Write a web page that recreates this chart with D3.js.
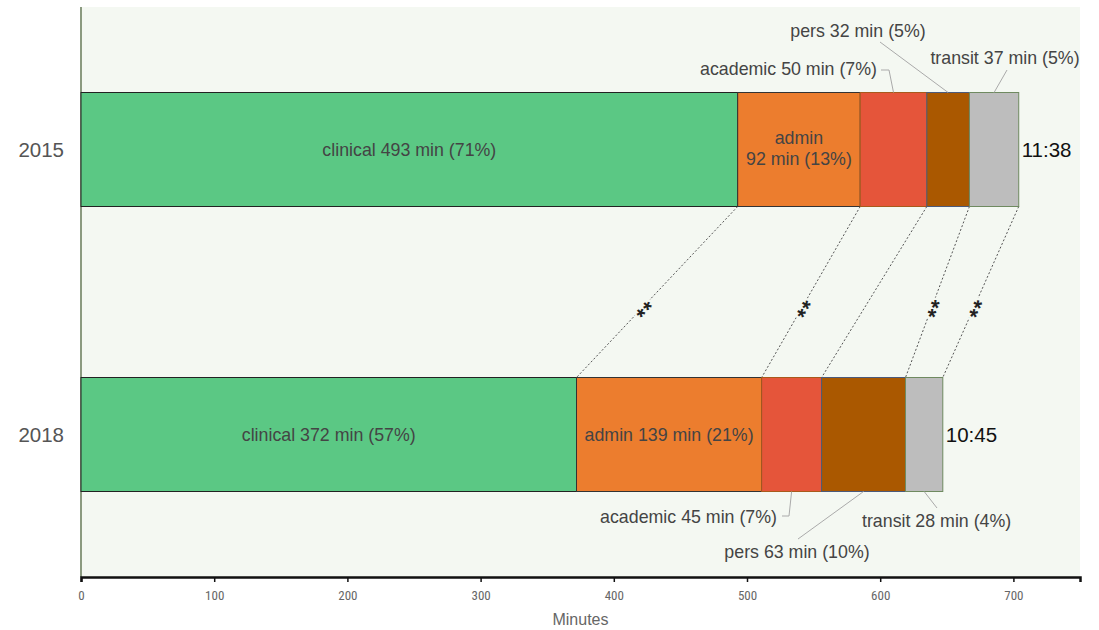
<!DOCTYPE html>
<html lang="en">
<head>
<meta charset="UTF-8">
<title>Time use 2015 vs 2018</title>
<style>
    body { margin: 0; background: #fff; }
    text { font-family: "Liberation Sans", Arial, sans-serif; }
    .x_axis text { font-family: "Liberation Sans Narrow", "Roboto Condensed", sans-serif; font-size: 13px; fill: #666; }
    .x_axis path, .x_axis line { stroke: #111; }
</style>
</head>
<body>
<script src="https://cdn.jsdelivr.net/npm/d3@7"></script>
<script>
    const years = ["2015", "2018"];
    const categories = ["clinical", "admin", "academic", "pers", "transit"];
    const minutes2015 = [493, 92, 50, 32, 37];
    const minutes2018 = [372, 139, 45, 63, 28];
    const pct2015 = [71, 13, 7, 5, 5];
    const pct2018 = [57, 21, 7, 10, 4];
    const totals = ["11:38", "10:45"];
    const xTicks = [0, 100, 200, 300, 400, 500, 600, 700];
    // boundaries after each category: marked significant with **
    const significant = [true, true, false, true, true];

    const colors = ["#5bc884", "#ec7d2e", "#e5553a", "#aa5800", "#bdbdbd"];
    const strokes = ["#222", "#333", "#a85a1c", "#4c5a7a", "#6f8a60"];

    const svg_w = 1099, svg_h = 630;
    const plot_l = 81, plot_r = 1080, plot_t = 7, plot_b = 577;
    const lab_size = 17.8;

    const x = d3.scaleLinear([0, 750], [plot_l, plot_r]);
    const y = d3.scaleBand(years, [plot_t, plot_b]).paddingInner(0.6).paddingOuter(0.3);

    const svg = d3.select("body").append("svg")
        .attr("width", svg_w).attr("height", svg_h);

    svg.append("rect")
        .attr("x", plot_l).attr("y", plot_t)
        .attr("width", plot_r - plot_l).attr("height", plot_b - plot_t)
        .attr("fill", "#f4f8f2");

    svg.append("line")
        .attr("x1", plot_l).attr("x2", plot_l).attr("y1", plot_t).attr("y2", plot_b)
        .attr("stroke", "#8b9a80").attr("stroke-width", 2);

    const rows = [
        { year: years[0], mins: minutes2015, pct: pct2015, total: totals[0] },
        { year: years[1], mins: minutes2018, pct: pct2018, total: totals[1] }
    ];

    rows.forEach(r => {
        let acc = 0;
        r.segs = r.mins.map((m, i) => {
            const s = { cat: categories[i], m: m, p: r.pct[i], x0: acc, x1: acc + m, i: i };
            acc += m;
            return s;
        });
        r.end = acc;
    });

    // dashed connectors between segment boundaries
    categories.forEach((c, i) => {
        const a = rows[0].segs[i].x1, b = rows[1].segs[i].x1;
        const x1 = x(a), y1 = y(years[0]) + y.bandwidth();
        const x2 = x(b), y2 = y(years[1]);
        svg.append("line")
            .attr("x1", x1).attr("y1", y1).attr("x2", x2).attr("y2", y2)
            .attr("stroke", "#555").attr("stroke-width", 1)
            .attr("stroke-dasharray", "2,2");
        if (significant[i]) {
            const t = 0.59;
            const mx = x1 + (x2 - x1) * t, my = y1 + (y2 - y1) * t;
            const ang = Math.atan2(y1 - y2, x1 - x2) * 180 / Math.PI;
            svg.append("text")
                .attr("transform", `translate(${mx},${my}) rotate(${ang})`)
                .attr("text-anchor", "middle")
                .attr("dy", "0.6em")
                .attr("font-size", 22)
                .attr("font-weight", "bold")
                .attr("letter-spacing", 1)
                .attr("fill", "#222")
                .attr("stroke", "#f4f8f2").attr("stroke-width", 5)
                .attr("paint-order", "stroke")
                .text("**");
        }
    });

    // bars
    rows.forEach(r => {
        const g = svg.append("g");
        g.selectAll("rect").data(r.segs).enter().append("rect")
            .attr("x", d => x(d.x0))
            .attr("y", y(r.year))
            .attr("width", d => x(d.x1) - x(d.x0))
            .attr("height", y.bandwidth())
            .attr("fill", d => colors[d.i])
            .attr("stroke", d => strokes[d.i])
            .attr("stroke-width", 1);

        svg.append("text")
            .attr("x", x(r.end) + 3)
            .attr("y", y(r.year) + y.bandwidth() / 2)
            .attr("dy", "0.35em")
            .attr("font-size", 20.5)
            .attr("fill", "#111")
            .text(r.total);

        svg.append("text")
            .attr("x", 64)
            .attr("y", y(r.year) + y.bandwidth() / 2)
            .attr("dy", "0.35em")
            .attr("text-anchor", "end")
            .attr("font-size", 20.5)
            .attr("fill", "#555")
            .text(r.year);
    });

    const labelText = s => `${s.cat} ${s.m} min (${s.p}%)`;
    const mid = s => x((s.x0 + s.x1) / 2);

    // inside labels
    const s15 = rows[0].segs, s18 = rows[1].segs;
    const c15 = y(years[0]) + y.bandwidth() / 2, c18 = y(years[1]) + y.bandwidth() / 2;
    const t15 = y(years[0]), b15 = t15 + y.bandwidth();
    const t18 = y(years[1]), b18 = t18 + y.bandwidth();

    function inLabel(cx, cy, lines) {
        const t = svg.append("text")
            .attr("x", cx).attr("y", cy)
            .attr("text-anchor", "middle")
            .attr("font-size", lab_size).attr("fill", "#444");
        lines.forEach((l, k) => {
            t.append("tspan").attr("x", cx)
                .attr("dy", k === 0 ? (0.35 - (lines.length - 1) * 0.6) + "em" : "1.2em")
                .text(l);
        });
    }
    inLabel(mid(s15[0]), c15, [labelText(s15[0])]);
    inLabel(mid(s15[1]), c15 - 1, [s15[1].cat, `${s15[1].m} min (${s15[1].p}%)`]);
    inLabel(mid(s18[0]), c18, [labelText(s18[0])]);
    inLabel(mid(s18[1]), c18, [labelText(s18[1])]);

    // callouts
    function callout(s, tx, ty, anchor, pts) {
        svg.append("polyline")
            .attr("points", pts.map(p => p.join(",")).join(" "))
            .attr("fill", "none").attr("stroke", "#aaa").attr("stroke-width", 1);
        svg.append("text")
            .attr("x", tx).attr("y", ty).attr("dy", "0.35em")
            .attr("text-anchor", anchor)
            .attr("font-size", lab_size).attr("fill", "#444")
            .text(labelText(s));
    }
    callout(s15[2], 877, 69, "end", [[881, 70], [889, 70], [mid(s15[2]), t15]]);
    callout(s15[3], 858, 31, "middle", [[880, 42], [mid(s15[3]), t15]]);
    callout(s15[4], 1005, 58, "middle", [[1007, 70], [mid(s15[4]), t15]]);
    callout(s18[2], 777, 517, "end", [[782, 516], [789, 516], [mid(s18[2]), b18]]);
    callout(s18[3], 797, 552, "middle", [[798, 539], [mid(s18[3]), b18]]);
    callout(s18[4], 862, 521, "start", [[937, 508], [mid(s18[4]), b18]]);

    // x axis
    const x_axis = d3.axisBottom(x).tickValues(xTicks).tickSizeOuter(0).tickSize(5);
    const ax = svg.append("g").attr("class", "x_axis")
        .attr("transform", `translate(0,${plot_b})`)
        .call(x_axis);
    ax.select(".domain").attr("stroke-width", 2.5);
    ax.selectAll(".tick line").attr("stroke-width", 1.5);
    ax.selectAll(".tick text").attr("y", 14);

    svg.append("text")
        .attr("x", (plot_l + plot_r) / 2).attr("y", 619)
        .attr("dy", "0.35em")
        .attr("text-anchor", "middle")
        .attr("font-size", 16).attr("fill", "#666")
        .text("Minutes");
</script>
</body>
</html>
